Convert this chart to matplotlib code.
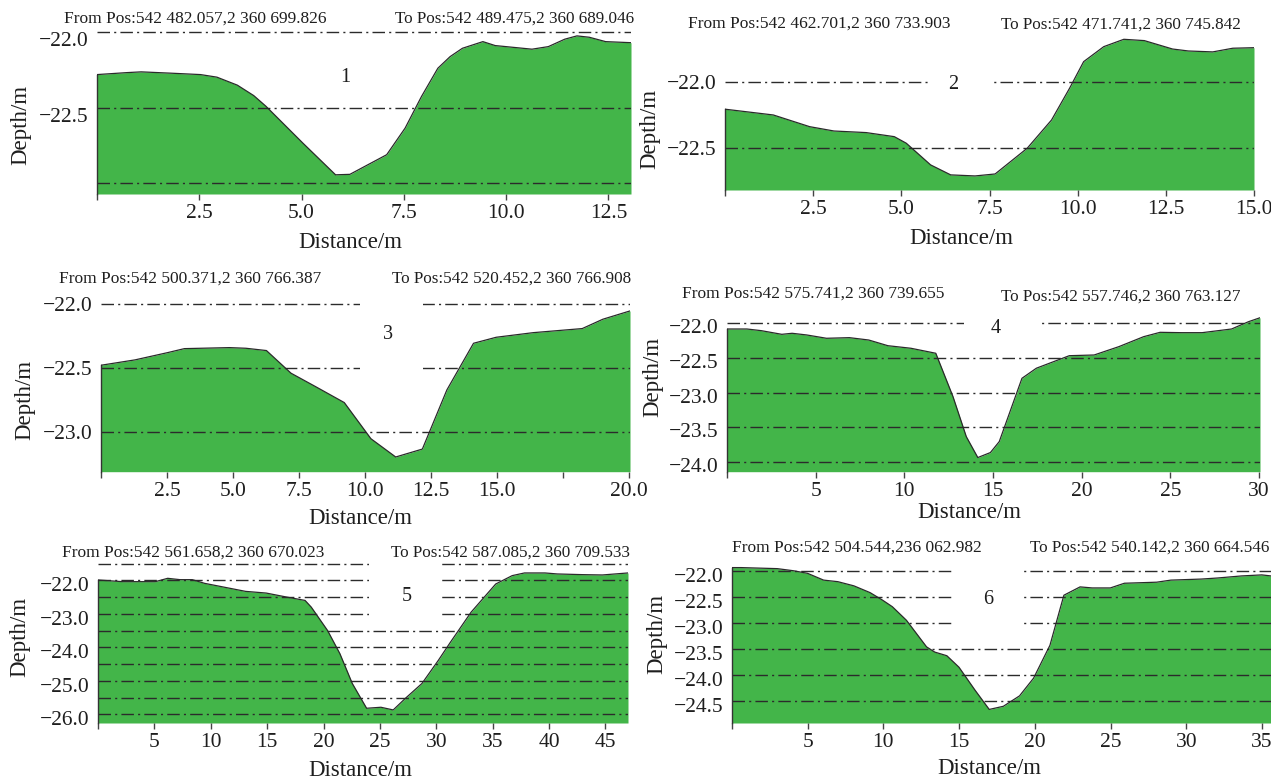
import numpy as np
import matplotlib
matplotlib.use("Agg")
import matplotlib.pyplot as plt
import matplotlib.transforms as mtransforms
from matplotlib.patches import Rectangle

plt.rcParams['font.family'] = ['Liberation Serif', 'DejaVu Serif']

W, H = 1271, 782

# ---- profile data (distance in m, depth in m) ----
dist1 = [0, 0.73, 1.08, 1.83, 2.53, 2.93, 3.43, 3.83, 4.13, 5.03, 5.83, 6.18, 7.08, 7.53, 7.93,
         8.33, 8.63, 8.93, 9.18, 9.43, 9.73, 10.63, 11.03, 11.43, 11.73, 12.03, 12.43, 13.05]
depth1 = [-22.28, -22.267, -22.262, -22.271, -22.28, -22.297, -22.35, -22.419, -22.49, -22.733,
          -22.943, -22.94, -22.81, -22.634, -22.425, -22.238, -22.161, -22.106, -22.084, -22.062,
          -22.088, -22.112, -22.095, -22.046, -22.024, -22.033, -22.062, -22.069]

dist2 = [0, 1.37, 2.4, 3.09, 4.0, 4.8, 5.14, 5.83, 6.4, 7.09, 7.66, 8.57, 9.26, 9.77, 10.17,
         10.74, 11.31, 11.89, 12.69, 13.14, 13.83, 14.4, 15.0]
depth2 = [-22.205, -22.249, -22.338, -22.371, -22.383, -22.414, -22.464, -22.629, -22.705,
          -22.713, -22.698, -22.502, -22.287, -22.046, -21.843, -21.729, -21.673, -21.683,
          -21.747, -21.762, -21.769, -21.741, -21.737]

dist3 = [0, 1.29, 2.53, 3.16, 4.87, 5.49, 6.27, 7.2, 8.13, 9.22, 10.23, 11.17, 12.18, 13.11,
         14.12, 14.98, 16.38, 18.24, 19.02, 20.05]
depth3 = [-22.477, -22.435, -22.378, -22.347, -22.339, -22.344, -22.362, -22.539, -22.644,
          -22.769, -23.052, -23.195, -23.133, -22.67, -22.305, -22.258, -22.222, -22.19,
          -22.117, -22.052]

dist4 = [0, 1.12, 1.93, 3.09, 3.67, 4.49, 5.61, 6.9, 7.99, 9.07, 10.37, 11.77, 12.74, 13.49,
         14.14, 14.85, 15.35, 16.63, 17.44, 19.3, 20.7, 22.09, 23.49, 24.42, 25.6, 26.79,
         28.45, 29.4, 30.05]
depth4 = [-22.082, -22.082, -22.106, -22.159, -22.144, -22.168, -22.216, -22.207, -22.241,
          -22.323, -22.36, -22.432, -23.057, -23.634, -23.936, -23.864, -23.706, -22.793,
          -22.648, -22.467, -22.457, -22.337, -22.193, -22.13, -22.135, -22.135, -22.082,
          -21.977, -21.92]

dist5 = [0, 2.18, 5.09, 6.18, 7.27, 8.36, 9.45, 11.27, 13.09, 14.91, 16.73, 18.36, 18.91,
         20.36, 21.45, 22.55, 23.82, 25.09, 26.18, 27.27, 28.73, 30.18, 31.27, 33.09, 35.27,
         36.73, 37.82, 39.64, 40.73, 42.91, 44.73, 47.0]
depth5 = [-21.99, -22.04, -22.04, -21.94, -21.98, -21.98, -22.09, -22.21, -22.33, -22.38,
          -22.5, -22.6, -22.8, -23.5, -24.19, -25.08, -25.82, -25.79, -25.87, -25.52, -25.08,
          -24.39, -23.84, -22.95, -22.11, -21.86, -21.78, -21.78, -21.81, -21.83, -21.84,
          -21.78]

dist6 = [0, 0.59, 2.99, 4.05, 4.99, 6.05, 6.99, 8.05, 9.12, 9.92, 10.59, 11.52, 12.85, 13.39,
         14.19, 14.99, 16.05, 16.99, 17.92, 18.99, 19.92, 21.0, 21.92, 22.99, 23.79, 24.99,
         25.92, 26.99, 28.05, 28.99, 30.99, 32.05, 33.65, 34.99, 35.6]
depth6 = [-21.94, -21.94, -21.96, -22.0, -22.05, -22.18, -22.21, -22.29, -22.42, -22.56,
          -22.69, -22.95, -23.46, -23.56, -23.63, -23.85, -24.29, -24.66, -24.6, -24.4, -24.06,
          -23.43, -22.47, -22.31, -22.33, -22.33, -22.24, -22.23, -22.22, -22.18, -22.16,
          -22.14, -22.1, -22.08, -22.1]

from_pos = ['From Pos:542 482.057,2 360 699.826', 'From Pos:542 462.701,2 360 733.903',
            'From Pos:542 500.371,2 360 766.387', 'From Pos:542 575.741,2 360 739.655',
            'From Pos:542 561.658,2 360 670.023', 'From Pos:542 504.544,236 062.982']
to_pos = ['To Pos:542 489.475,2 360 689.046', 'To Pos:542 471.741,2 360 745.842',
          'To Pos:542 520.452,2 360 766.908', 'To Pos:542 557.746,2 360 763.127',
          'To Pos:542 587.085,2 360 709.533', 'To Pos:542 540.142,2 360 664.546']

xticks1 = [0, 2.5, 5.0, 7.5, 10.0, 12.5]
xticks2 = [0, 2.5, 5.0, 7.5, 10.0, 12.5, 15.0]
xticks3 = [0, 2.5, 5.0, 7.5, 10.0, 12.5, 15.0, 17.5, 20.0]
xticks4 = [0, 5, 10, 15, 20, 25, 30]
xticks5 = [0, 5, 10, 15, 20, 25, 30, 35, 40, 45]
xticks6 = [0, 5, 10, 15, 20, 25, 30, 35]
hidden3 = [17.5]

yticks1 = [-22.0, -22.5]
yticks2 = [-22.0, -22.5]
yticks3 = [-22.0, -22.5, -23.0]
yticks4 = [-22.0, -22.5, -23.0, -23.5, -24.0]
yticks5 = [-22.0, -23.0, -24.0, -25.0, -26.0]
yticks6 = [-22.0, -22.5, -23.0, -23.5, -24.0, -24.5]

grid1 = [-22.0, -22.5, -23.0]
grid2 = [-22.0, -22.5]
grid3 = [-22.0, -22.5, -23.0]
grid4 = [-22.0, -22.5, -23.0, -23.5, -24.0]
grid5 = [-21.5, -22.0, -22.5, -23.0, -23.5, -24.0, -24.5, -25.0, -25.5, -26.0]
grid6 = [-22.0, -22.5, -23.0, -23.5, -24.0, -24.5]

# ---- layout (pixels); 'to' is (x, y, ha) ----
panels = [
    dict(n='1', d=dist1, z=depth1, xt=xticks1, yt=yticks1, g=grid1, fmt='{:.1f}', hide=[],
         px=(97, 631, 24.7, 194), xlim=(0, 13.05), ylim=(-23.07, -21.95),
         gap=None, num=(6.06, -22.3), ydy=7,
         fr=(64, 19), to=(634, 19, 'right'), yl=(21, 125), xl=(350, 242)),
    dict(n='2', d=dist2, z=depth2, xt=xticks2, yt=yticks2, g=grid2, fmt='{:.1f}', hide=[],
         px=(725, 1254, 29.7, 190), xlim=(0, 15.0), ylim=(-22.82, -21.6),
         gap=(5.83, 7.54, -22.15, -21.85), num=(6.46, -22.02), ydy=0,
         fr=(688, 24), to=(1001, 25, 'left'), yl=(650, 129), xl=(961, 238)),
    dict(n='3', d=dist3, z=depth3, xt=xticks3, yt=yticks3, g=grid3, fmt='{:.1f}', hide=hidden3,
         px=(101, 630, 297.9, 471.7), xlim=(0, 20.05), ylim=(-23.31, -21.95),
         gap=(9.81, 12.22, -22.75, -21.9), num=(10.86, -22.24), ydy=0,
         fr=(59, 279), to=(631, 279, 'right'), yl=(25, 400), xl=(360, 518)),
    dict(n='4', d=dist4, z=depth4, xt=xticks4, yt=yticks4, g=grid4, fmt='{:.0f}', hide=[],
         px=(727, 1260, 312.9, 471.7), xlim=(0, 30.05), ylim=(-24.14, -21.85),
         gap=(13.38, 17.51, -22.2, -21.86), num=(15.15, -22.07), ydy=3,
         fr=(682, 294), to=(1001, 297, 'left'), yl=(653, 377), xl=(969, 513)),
    dict(n='5', d=dist5, z=depth5, xt=xticks5, yt=yticks5, g=grid5, fmt='{:.0f}', hide=[],
         px=(98, 628, 561.9, 723), xlim=(0, 47.0), ylim=(-26.26, -21.45),
         gap=(24.0, 30.47, -23.25, -21.46), num=(27.38, -22.47), ydy=4,
         fr=(62, 553), to=(630, 553, 'right'), yl=(20, 637), xl=(360, 771)),
    dict(n='6', d=dist6, z=depth6, xt=xticks6, yt=yticks6, g=grid6, fmt='{:.0f}', hide=[],
         px=(732, 1271, 562.9, 723), xlim=(0, 35.6), ylim=(-24.92, -21.85),
         gap=(14.72, 19.12, -23.25, -21.88), num=(16.9, -22.55), ydy=4,
         fr=(732, 548), to=(1269, 548, 'right'), yl=(657, 634), xl=(989, 768)),
]

GREEN = '#43b549'
GRIDC = '#2b2b2b'
DASH = (0, (9, 3, 1.5, 3))
TXT = '#1e1e1e'

fig = plt.figure(figsize=(W / 100, H / 100), dpi=100)


def fx(x):
    return x / W


def fy(y):
    return 1 - y / H


for p in panels:
    l, r, t, b = p['px']
    ax = fig.add_axes([fx(l), fy(b), fx(r - l), (b - t) / H])
    ax.set_xlim(*p['xlim'])
    ax.set_ylim(*p['ylim'])

    d = np.array(p['d'])
    z = np.array(p['z'])
    ax.fill_between(d, z, p['ylim'][0], color=GREEN, lw=0, zorder=1)
    ax.plot(d, z, color='#2a2a2a', lw=0.9, zorder=3)

    for lv in p['g']:
        ax.axhline(lv, color=GRIDC, lw=1.0, ls=DASH, zorder=2)
    if p['gap'] is not None:
        x0, x1, y0, y1 = p['gap']
        ax.add_patch(Rectangle((x0, y0), x1 - x0, y1 - y0, facecolor='white',
                               edgecolor='none', zorder=2.5))

    ax.text(p['num'][0], p['num'][1], p['n'], fontsize=14.5, color=TXT,
            ha='center', va='center', zorder=4)

    for s in ['top', 'right', 'bottom']:
        ax.spines[s].set_visible(False)
    ax.spines['left'].set_color('#333333')
    ax.spines['left'].set_linewidth(1.0)
    ax.spines['left'].set_bounds(p['ylim'][0], z[0])

    xl = ['' if (v == 0 or v in p['hide']) else p['fmt'].format(v) for v in p['xt']]
    ax.set_xticks(p['xt'], labels=xl)
    ax.set_yticks(p['yt'], labels=['{:.1f}'.format(v).replace('-', '\u2212') for v in p['yt']])
    ax.tick_params(axis='x', direction='out', length=4, width=1.0, color='#444444',
                   pad=3.5, labelsize=15.5, labelcolor=TXT)
    ax.tick_params(axis='y', length=0, pad=6, labelsize=15.5, labelcolor=TXT)
    off = mtransforms.ScaledTranslation(0, -p['ydy'] / 100, fig.dpi_scale_trans)
    for lab in ax.get_yticklabels():
        lab.set_transform(lab.get_transform() + off)

    k = int(p['n']) - 1
    fig.text(fx(p['fr'][0]), fy(p['fr'][1]), from_pos[k], fontsize=12.5,
             color=TXT, ha='left', va='center')
    fig.text(fx(p['to'][0]), fy(p['to'][1]), to_pos[k], fontsize=12.3,
             color=TXT, ha=p['to'][2], va='center')
    fig.text(fx(p['yl'][0]), fy(p['yl'][1]), 'Depth/m', fontsize=16.5, color=TXT,
             rotation=90, ha='center', va='center')
    fig.text(fx(p['xl'][0]), fy(p['xl'][1]), 'Distance/m', fontsize=16.5, color=TXT,
             ha='center', va='center')

fig.savefig('out.png', dpi=100)
